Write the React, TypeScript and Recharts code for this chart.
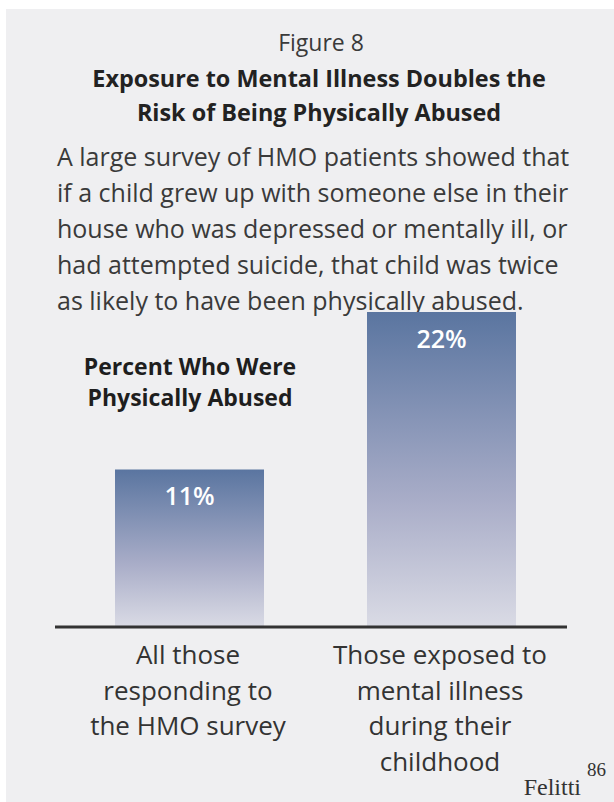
import React from "react";
import { BarChart, Bar, XAxis, YAxis, LabelList } from "recharts";

const categories = ["All those responding to the HMO survey", "Those exposed to mental illness during their childhood"];
const categoryLines = [
  ["All those", "responding to", "the HMO survey"],
  ["Those exposed to", "mental illness", "during their", "childhood"],
];
const percentAbused = [11, 22];

const figureLabel = "Figure 8";
const titleLines = ["Exposure to Mental Illness Doubles the", "Risk of Being Physically Abused"];
const bodyLines = [
  "A large survey of HMO patients showed that",
  "if a child grew up with someone else in their",
  "house who was depressed or mentally ill, or",
  "had attempted suicide, that child was twice",
  "as likely to have been physically abused.",
];
const seriesLabelLines = ["Percent Who Were", "Physically Abused"];
const sourceText = "Felitti";
const sourceNote = "86";

const data = categories.map((c, i) => ({ name: c, idx: i, value: percentAbused[i] }));

const FONT = "'Open Sans', 'DejaVu Sans', sans-serif";

const Tick = (props: any) => {
  const { x, y, payload } = props;
  const lines = categoryLines[payload.index] || [];
  return (
    <g>
      {lines.map((l, i) => (
        <text key={i} x={x - 1} y={y + 29 + i * 35.5} textAnchor="middle" fontFamily={FONT} fontSize={26} fill="#333">
          {l}
        </text>
      ))}
    </g>
  );
};

export default function App() {
  return (
    <div style={{ position: "absolute", left: 0, top: 0, width: 614, height: 802, background: "#ffffff" }}>
      <BarChart
        width={614}
        height={802}
        data={data}
        margin={{ top: 312, right: 47, bottom: 35, left: 55 }}
        barSize={149}
      >
        <defs>
          <linearGradient id="barGrad" x1="0" y1="0" x2="0" y2="1">
            <stop offset="0%" stopColor="#5a75a0" />
            <stop offset="60%" stopColor="#a9adc8" />
            <stop offset="100%" stopColor="#dadbe5" />
          </linearGradient>
        </defs>
        <rect x={6} y={9} width={608} height={793} fill="#efeff1" />
        <text x={321} y={51} textAnchor="middle" fontFamily={FONT} fontSize={23} fill="#3a3a3a">
          {figureLabel}
        </text>
        {titleLines.map((t, i) => (
          <text key={t} x={319} y={87 + i * 34} textAnchor="middle" fontFamily={FONT} fontWeight="bold" fontSize={23.4} fill="#222">
            {t}
          </text>
        ))}
        {bodyLines.map((t, i) => (
          <text key={t} x={57} y={166 + i * 36} fontFamily={FONT} fontSize={25} fill="#3a3a3a">
            {t}
          </text>
        ))}
        {seriesLabelLines.map((t, i) => (
          <text key={t} x={190} y={375 + i * 31} textAnchor="middle" fontFamily={FONT} fontWeight="bold" fontSize={23} fill="#1e1e1e">
            {t}
          </text>
        ))}
        <text x={581} y={795} textAnchor="end" fontFamily="'Liberation Serif', serif" fontSize={24} fill="#333">
          {sourceText}
        </text>
        <text x={587} y={776} fontFamily="'Liberation Serif', serif" fontSize={19} fill="#333">
          {sourceNote}
        </text>
        <YAxis hide domain={[0, 22]} />
        <XAxis
          dataKey="name"
          interval={0}
          height={140}
          padding={{ left: 8, right: 0 }}
          axisLine={{ stroke: "#333", strokeWidth: 3 }}
          tickLine={false}
          tick={<Tick />}
        />
        <Bar dataKey="value" fill="url(#barGrad)" isAnimationActive={false}>
          <LabelList
            dataKey="value"
            position="insideTop"
            offset={18}
            formatter={(v: any) => `${v}%`}
            fill="#ffffff"
            fontFamily={FONT}
            fontWeight={600}
            fontSize={25}
          />
        </Bar>
      </BarChart>
    </div>
  );
}
